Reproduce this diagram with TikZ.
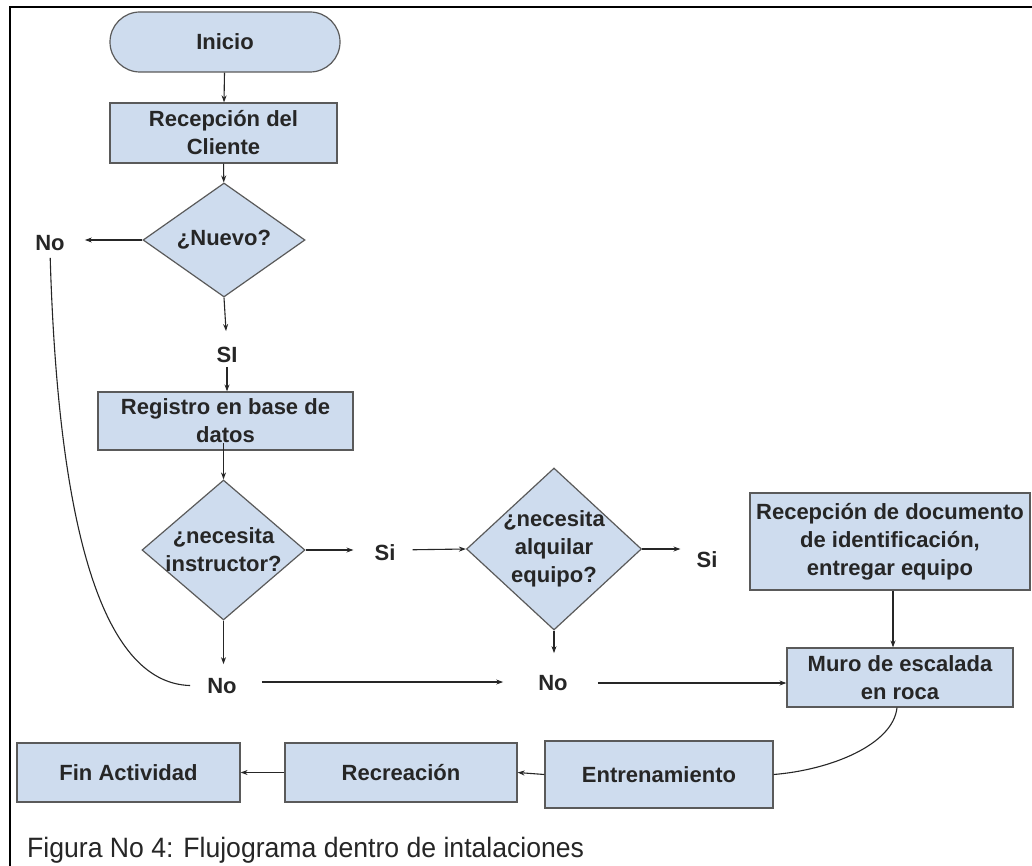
\documentclass[tikz,border=0pt]{standalone}
\usepackage{fontspec}
\setmainfont{Liberation Sans}
\usetikzlibrary{shapes.geometric,arrows.meta}
\definecolor{boxfill}{RGB}{206,220,238}
\definecolor{boxline}{RGB}{90,90,90}
\definecolor{ink}{RGB}{38,38,38}
\tikzset{
  txt/.style={text=ink,font=\fontsize{22}{28}\selectfont\bfseries,align=center,inner sep=0pt},
  procbox/.style={draw=boxline,fill=boxfill,line width=1.2pt,txt},
  decis/.style={draw=boxline,fill=boxfill,line width=1.2pt,shape=diamond,inner sep=0pt},
  lbl/.style={txt},
  conn/.style={draw=ink,line width=1.1pt},
  arr/.style={conn,-{Stealth[length=7pt,width=5pt]}},
}
\begin{document}
\begin{tikzpicture}[x=1pt,y=-1pt]
\useasboundingbox (0,0) rectangle (1032,866);
\fill[white] (0,0) rectangle (1032,866);
\draw[line width=2.8pt,black] (10,866) -- (10,7) -- (1032,7);

% nodes
\node[procbox,rounded corners=30pt,minimum width=230pt,minimum height=60pt] (inicio) at (225,42) {Inicio};
\node[procbox,minimum width=227pt,minimum height=60pt] (recep) at (223.5,133) {Recepción del\\Cliente};
\node[decis,minimum width=162pt,minimum height=114pt,label={[txt]center:¿Nuevo?}] (nuevo) at (224,240) {};
\node[lbl] (no1) at (50,243) {No};
\node[lbl] (si1) at (227,355) {SI};
\node[procbox,minimum width=255pt,minimum height=58pt] (reg) at (225.5,421) {Registro en base de\\datos};
\node[decis,minimum width=163pt,minimum height=140pt,label={[txt]center:¿necesita\\instructor?}] (instr) at (223.5,550) {};
\node[lbl] (si2) at (385,553) {Si};
\node[decis,minimum width=175pt,minimum height=162pt,label={[txt]center:¿necesita\\alquilar\\equipo?}] (alq) at (554,549) {};
\node[lbl] (si3) at (707,560) {Si};
\node[procbox,minimum width=280pt,minimum height=97pt] (doc) at (890,541.5) {Recepción de documento\\de identificación,\\entregar equipo};
\node[lbl] (no2) at (222,686) {No};
\node[lbl] (no3) at (553,683) {No};
\node[procbox,minimum width=226pt,minimum height=59pt] (muro) at (900,677.5) {Muro de escalada\\en roca};
\node[procbox,minimum width=223pt,minimum height=59pt] (fin) at (128.5,772.5) {Fin Actividad};
\node[procbox,minimum width=232pt,minimum height=59pt] (recre) at (401,772.5) {Recreación};
\node[procbox,minimum width=228pt,minimum height=67pt] (entr) at (659,774.5) {Entrenamiento};
\node[anchor=base west,inner sep=0pt,text=ink,font=\fontsize{28}{32}\selectfont] (cap) at (27,857) {\scalebox{0.95}[1]{Figura No 4: Flujograma dentro de intalaciones}};

% connectors
\draw[arr] (inicio) -- (recep);
\draw[arr] (recep) -- (nuevo);
\draw[arr,shorten >=20pt] (nuevo.west) -- (nuevo.west -| no1.east);
\draw[arr,shorten >=16pt] (nuevo.south) -- (si1.north);
\draw[arr,shorten <=4pt] (si1.south) -- (reg.north -| si1.south);
\draw[arr,shorten <=-8pt] (reg.south -| instr.north) -- (instr.north);
\draw[arr,shorten >=21pt] (instr.east) -- (instr.east -| si2.west);
\draw[arr,shorten <=17pt] (si2.east |- instr.east) -- (alq.west);
\draw[arr,shorten >=16pt] (alq.east) -- (alq.east -| si3.west);
\draw[arr] (doc.south -| 893,0) -- (muro.north -| 893,0);
\draw[arr,shorten >=14pt] (instr.south) -- (instr.south |- no2.north);
\draw[conn,shorten <=7pt,shorten >=17pt] (no1.south) .. controls (58,520) and (100,683) .. (no2.west);
\draw[arr,shorten <=25pt,shorten >=35pt] (no2.east |- 0,682) -- (no3.west |- 0,682);
\draw[arr,shorten >=22pt] (alq.south) -- (alq.south |- no3.north);
\draw[arr,shorten <=30pt] (no3.east |- 0,683) -- (muro.west |- 0,683);
\draw[conn] (muro.south -| 897,0) .. controls (893,745) and (830,770) .. (entr.east);
\draw[arr] (entr.west) -- (recre.east);
\draw[arr] (recre.west) -- (fin.east);
\end{tikzpicture}
\end{document}
